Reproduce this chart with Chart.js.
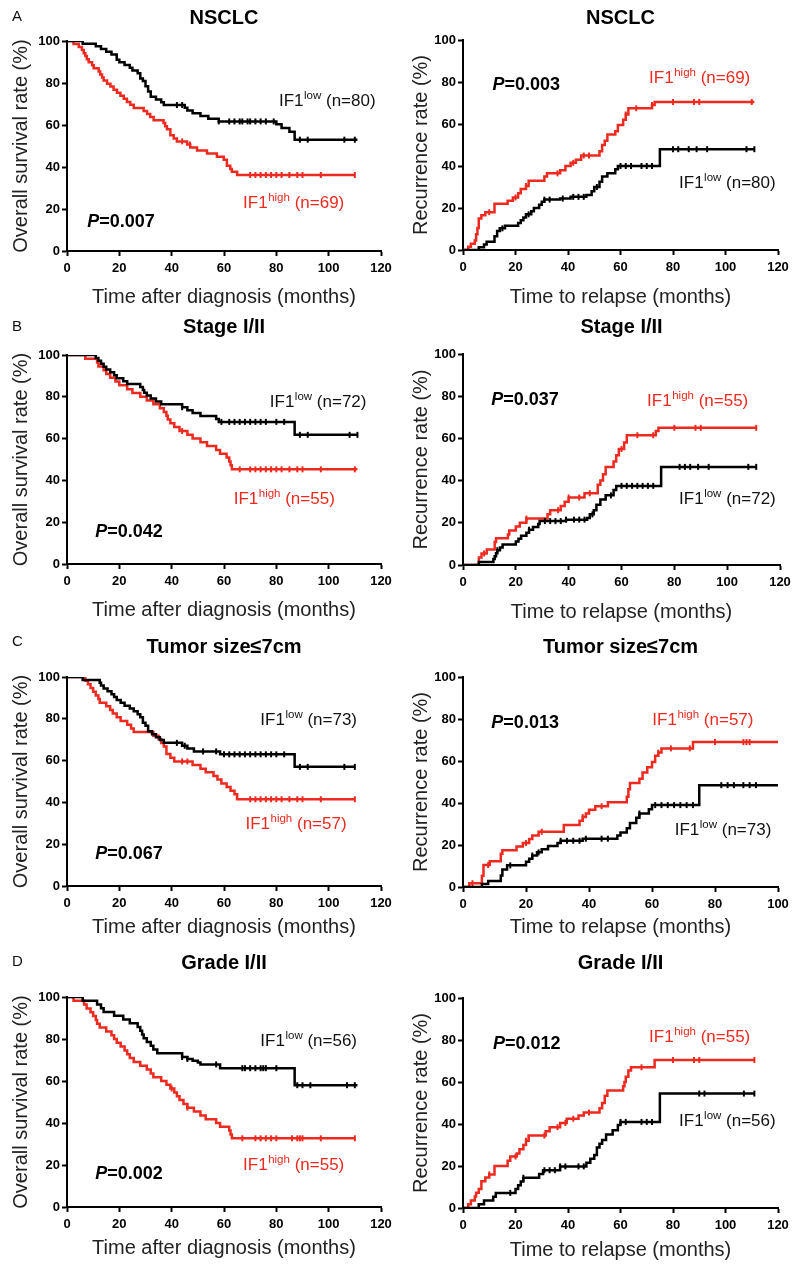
<!DOCTYPE html>
<html>
<head>
<meta charset="utf-8">
<script src="https://cdn.jsdelivr.net/npm/chart.js@4"></script>
<style>
  body { margin: 0; background: #fff; }
  #wrap { position: relative; width: 800px; height: 1273px; overflow: hidden; background: #fff; }
  canvas { position: absolute; }
</style>
</head>
<body>
<div id="wrap"></div>
<script>
// ---- data: [month, percent] at each step ----
const aOsLow = [[0,100],[6,98.7],[11,97.5],[13,96.2],[15,94.9],[17,93.6],[19,91.1],[20,89.9],[22,88.6],[24,87.3],[25,86],[27,84.7],[28,82.2],[29,80.9],[30,78.4],[31,75.9],[32,73.4],[34,72.1],[36,70.8],[37,69.5],[45,68.2],[46,66.9],[48,65.6],[51,64.3],[54,63],[58,61.7],[80,60.4],[82,58.6],[85,56.8],[87,53],[111,53]];
const aOsHigh = [[0,100],[2.5,98.6],[4.5,97.1],[5.7,95.7],[6.4,94.2],[7,92.8],[7.6,91.3],[8.3,89.9],[9.6,88.4],[10.2,87],[12.1,85.5],[12.7,84.1],[13.4,82.6],[14,81.2],[15.3,79.7],[16.6,78.3],[17.8,76.8],[19.1,75.4],[20.4,73.9],[21.7,72.5],[22.9,71],[24.2,69.6],[25.5,68.1],[29.3,66.7],[30.6,65.2],[31.8,63.8],[33.1,62.3],[36.9,60.9],[37.5,59.4],[38.2,58],[39.5,55.1],[40.8,53.6],[42,52.2],[45.9,50.7],[47.1,49.3],[49.7,47.8],[53.5,46.4],[57.3,44.9],[59.9,43.5],[61.1,40.6],[62.4,39.1],[63,37.7],[65,36.2],[110,36.2]];
const aRecLow = [[0,0],[6,1.3],[8,2.6],[9,3.9],[12,6.5],[13,9],[14,10.3],[16,11.6],[21,12.9],[22,14.2],[23,15.5],[24,17],[26,18.5],[27,20],[29,21.5],[30,23],[31,24],[37,24.5],[41,25.3],[47,26.2],[49,28],[50,30],[52,32.5],[53,35],[55,36.5],[58,38.5],[59,40],[75,48],[111,48]];
const aRecHigh = [[0,0],[2,1.5],[3,3],[4.5,4.5],[5,7.5],[5.5,10.5],[6,15],[7,16.5],[8.5,18],[12,22],[17,23.5],[19,25],[21,27],[22,29],[24,30.5],[25,33],[31,35],[32,36.5],[37,38],[39,40],[41,41.5],[43,43],[45,45],[52,47],[53,50],[54,52],[55,55],[58,56.5],[59,59.5],[61,62],[62,64.5],[63,67.5],[72,69],[73,70.5],[111,70.5]];

const bOsLow = [[0,100],[11,98.6],[12,97.2],[13,95.8],[14,94.4],[15,93.1],[16.5,91.7],[18,90.3],[19,88.9],[21.5,87.5],[23,86.1],[28,84.7],[29,83.3],[29.5,81.9],[30.5,80.6],[32,79.2],[34,77.8],[36,76.4],[44,75],[46,73.6],[48,72.2],[51,70.8],[57,69.4],[58,68],[87,61.8],[111,61.8]];
const bOsHigh = [[0,100],[7,98.2],[11.5,96.4],[12,94.5],[14,92.7],[15,90.9],[16.5,89.1],[18.5,87.3],[20,85.5],[23,83.6],[25,81.8],[28,80],[30.5,78.2],[33,76.4],[35.5,74.5],[37,72.7],[38,70.9],[38.5,69.1],[39.5,67.3],[41,65.5],[43,63.6],[46,61.8],[48,60],[51,58.2],[53.5,56.4],[57,54.5],[58.5,52.7],[61,50.9],[62,49.1],[62.5,47.3],[63,45.3],[111,45.3]];
const bRecLow = [[0,0],[6,1.4],[11.5,2.8],[12,4.2],[12.5,5.6],[13,7],[14,8.3],[15,9.7],[20,11.1],[21,12.5],[22,13.9],[24,15.3],[25,16.7],[26.5,18],[28.5,19.4],[29,20.8],[39,21.5],[47,22.3],[48,24],[49.5,26],[50.5,28.5],[52,31],[54,33],[57,35.5],[58,37.5],[75,46.5],[111,46.5]];
const bRecHigh = [[0,0],[6,3.6],[7,5.5],[9,7.3],[12,10.9],[12.5,12.7],[17,14.5],[17.5,16.4],[20,18.2],[21.5,20],[24,22],[32,24],[33,26],[37,28],[38.5,30],[40,32],[46,34],[51,38],[52,40],[53,43],[54,46.5],[57,49],[58,52],[59,55],[61,58],[62,61.5],[73,63.5],[74,65],[111,65]];

const cOsLow = [[0,100],[6,98.6],[12.5,97.3],[13,95.9],[14,94.5],[15.5,93.2],[17,91.8],[18,90.4],[19,89],[20.5,87.7],[22,86.3],[24,84.9],[25.5,83.6],[27,82.2],[28,80.8],[29,78.1],[30,76.7],[31,74],[32.5,72.6],[34,71.2],[35.5,69.9],[37,68.5],[44,67.1],[46,65.8],[48.5,64.4],[58.5,63],[87,57],[110,57]];
const cOsHigh = [[0,100],[7,98.2],[8,96.5],[9,94.7],[10,93],[11,91.2],[12,89.5],[12.5,87.7],[15,86],[16.5,84.2],[17.5,82.5],[19,80.7],[20.5,78.9],[23,77.2],[24.5,75.4],[25.5,73.7],[33,71.9],[35,70.2],[36,68.4],[37,66.7],[38,63.2],[39.5,61.4],[41,59.6],[48,57.9],[51,56.1],[53,54.4],[56,52.6],[57.5,50.9],[59,49.1],[61,47.4],[62.5,45.6],[64,43.9],[65,41.5],[110,41.5]];
const cRecLow = [[0,0],[6,1.4],[8,2.8],[12,5.5],[12.5,8.3],[14,10.3],[20,12],[21,13.5],[22,15],[23.5,16.5],[25,18],[27,19.5],[30,21],[31,22],[38,23],[49,24.5],[50,26],[52,28],[53,30.5],[55,33],[56,35],[59,37],[60,39],[75,48.5],[100,48.5]];
const cRecHigh = [[0,0],[2,1.8],[6,5.3],[6.5,10.5],[8.5,12.3],[12,15.8],[12.5,17.5],[17,19.3],[19,21],[21,22.8],[22,24.5],[24,26.3],[32,29.5],[37,31.5],[38,33.3],[39,35],[40,36.8],[42,38.5],[46,40.3],[52,43],[52.5,46.5],[53,49.5],[56,51.5],[57,54.5],[58.5,57],[60,59.5],[61,62.5],[62,64],[63,66],[73,69],[100,69]];

const dOsLow = [[0,100],[6,98.2],[11.5,96.4],[13,94.6],[14,92.9],[18,91.1],[21.5,89.3],[24,87.5],[27,85.7],[28,83.9],[28.7,82.1],[29.3,80.4],[30.5,78.6],[32,76.8],[33,75],[34.5,73.2],[44,71.4],[46,70.5],[48,69.6],[50,68.8],[51,67.9],[58.5,66.1],[87,58],[111,58]];
const dOsHigh = [[0,100],[2.5,98.2],[6.5,96.4],[7.5,94.5],[9,92.7],[10,90.9],[11,89.1],[11.5,87.3],[12.5,85.5],[15,83.6],[17,81.8],[18,80],[19,78.2],[20.5,76.4],[22,74.5],[23,72.7],[24,70.9],[25.5,69.1],[28,67.3],[30.5,65.5],[32,63.6],[33,61.8],[36,60],[38,58.2],[39.5,56.4],[41,54.5],[42,52.7],[43,50.9],[44.5,49.1],[46,47.3],[48.5,45.5],[51,43.6],[53,41.8],[57,40],[58.5,38.2],[62,36.4],[62.5,34.5],[63,32.7],[110,32.7]];
const dRecLow = [[0,0],[6,1.8],[8,3.6],[11.5,5.4],[12.5,7.2],[20,9],[21,10.8],[22,12.6],[23,14.4],[29,16.2],[30.5,18],[37,19.8],[47,21.6],[48.5,23.4],[50,25.2],[51,28.8],[52,30.6],[53,32.4],[54.5,35],[57,37],[59,39.5],[60,41],[75,54.5],[111,54.5]];
const dRecHigh = [[0,0],[2,1.8],[3,3.6],[4.5,5.5],[5,7.3],[6,9.1],[7,12.7],[8.5,14.5],[10,16],[12,20],[17,22.5],[18,24.5],[20.5,26],[21.5,28],[23,30],[24,32],[25,34.5],[31.5,36.5],[33,38.5],[37,40.5],[39.5,42.5],[44,44],[46,45.5],[52,47.5],[53,50],[54,53.5],[55,56],[61,58],[61.5,60],[62,62.5],[63,65.5],[64,67],[73,70.5],[111,70.5]];

// censor tick times (months)
const aOsLowCens = [42,44,58,62,64,66,67,69,70,72,74,76,79,89,92,106,110];
const aOsHighCens = [44,47,70,72,74,76,78,80,82,85,88,90,97,110];
const aRecLowCens = [15,25,31,33,38,42,44,46,51,60,62,64,68,70,72,80,82,86,89,93,108,111];
const aRecHighCens = [10,20,24,36,42,46,48,62,66,72,80,88,90,110];
const bOsLowCens = [44,59,62,64,66,68,70,72,74,76,80,83,89,92,108,111];
const bOsHighCens = [44,66,70,72,74,76,78,80,82,85,88,90,97,110];
const bRecLowCens = [13,25,31,33,35,37,39,42,44,46,49,56,60,62,64,66,68,70,72,82,84,86,89,93,108,111];
const bRecHighCens = [8,24,36,40,44,48,60,66,72,80,88,90,111];
const cOsLowCens = [42,45,52,57,60,62,64,66,68,70,72,74,76,78,80,83,89,92,106,110];
const cOsHighCens = [44,46,70,72,74,76,78,80,82,85,88,90,97,110];
const cRecLowCens = [15,22,24,31,33,35,37,39,44,46,56,61,63,65,67,69,71,73,82,84,86,89,91,93];
const cRecHighCens = [3,8,20,25,38,44,62,66,72,80,89,90,91];
const dOsLowCens = [44,46,57,67,68,70,72,74,75,76,80,88,90,93,107,110];
const dOsHighCens = [40,46,67,72,74,76,78,80,86,88,89,90,97,110];
const dRecLowCens = [18,23,31,33,35,37,39,44,46,60,62,68,70,72,90,92,107,111];
const dRecHighCens = [10,20,24,31,36,39,42,48,68,80,88,90,111];

const xTicksStep = 20;
const yTicks = [0, 20, 40, 60, 80, 100];

const FONT = '"Liberation Sans", Arial, sans-serif';
const RED = '#ec2a1f';
const BLACK = '#000';

const panels = [
  { letter: 'A', title: 'NSCLC', titleY: 18, left: 0, top: 0, h: 310, L: 67, R: 381, T: 41, B: 251, xMax: 120, os: true,
    p: '0.007', pPos: [7.7, 14.7], low: [aOsLow, aOsLowCens, 80, [81, 72]], high: [aOsHigh, aOsHighCens, 69, [67.3, 23.4]] },
  { title: 'NSCLC', titleY: 18, left: 400, top: 0, h: 310, L: 63, R: 378, T: 40, B: 250, xMax: 120, os: false,
    p: '0.003', pPos: [11.2, 79.4], low: [aRecLow, aRecLowCens, 80, [82.3, 32.5]], high: [aRecHigh, aRecHighCens, 69, [70.9, 82.2]] },
  { letter: 'B', title: 'Stage I/II', titleY: 17, left: 0, top: 310, h: 313, L: 67, R: 381, T: 45, B: 254, xMax: 120, os: true,
    p: '0.042', pPos: [10.8, 15.9], low: [bOsLow, bOsLowCens, 72, [77.5, 78]], high: [bOsHigh, bOsHighCens, 55, [63.7, 31.4]] },
  { title: 'Stage I/II', titleY: 17, left: 400, top: 310, h: 315, L: 63, R: 380, T: 44, B: 255, xMax: 120, os: false,
    p: '0.037', pPos: [10.7, 79], low: [bRecLow, bRecLowCens, 72, [81.8, 31.6]], high: [bRecHigh, bRecHighCens, 55, [69.7, 78]] },
  { letter: 'C', title: 'Tumor size\u22647cm', titleY: 22, left: 0, top: 625, h: 315, L: 67, R: 381, T: 52, B: 261, xMax: 120, os: true,
    p: '0.067', pPos: [10.8, 15.9], low: [cOsLow, cOsLowCens, 73, [73.9, 79.7]], high: [cOsHigh, cOsHighCens, 57, [68.2, 30.3]] },
  { title: 'Tumor size\u22647cm', titleY: 22, left: 400, top: 625, h: 315, L: 63, R: 378, T: 52, B: 262, xMax: 100, os: false,
    p: '0.013', pPos: [9, 78.6], low: [cRecLow, cRecLowCens, 73, [67.2, 27.5]], high: [cRecHigh, cRecHighCens, 57, [60.1, 79.8]] },
  { letter: 'D', title: 'Grade I/II', titleY: 18, left: 0, top: 945, h: 316, L: 67, R: 381, T: 52, B: 262, xMax: 120, os: true,
    p: '0.002', pPos: [10.8, 16.3], low: [dOsLow, dOsLowCens, 56, [73.9, 79.4]], high: [dOsHigh, dOsHighCens, 55, [67.3, 20.6]] },
  { title: 'Grade I/II', titleY: 18, left: 400, top: 945, h: 318, L: 63, R: 378, T: 53, B: 263, xMax: 120, os: false,
    p: '0.012', pPos: [11.4, 79], low: [dRecLow, dRecLowCens, 56, [82.3, 41.7]], high: [dRecHigh, dRecHighCens, 55, [70.9, 81.9]] }
];

function valueAt(curve, t) {
  let v = curve[0][1];
  for (const pt of curve) {
    if (pt[0] <= t) v = pt[1];
    else break;
  }
  return v;
}

function curveDs(curve, color) {
  return {
    data: curve.map(p => ({ x: p[0], y: p[1] })),
    borderColor: color,
    borderWidth: 2.5,
    stepped: true,
    pointRadius: 0,
    fill: false
  };
}

function censDs(curve, times, color) {
  return {
    data: times.map(t => ({ x: t, y: valueAt(curve, t) })),
    showLine: false,
    pointStyle: 'line',
    pointRotation: 90,
    pointRadius: 3,
    pointBorderWidth: 2,
    pointBorderColor: color,
    pointBackgroundColor: color
  };
}

const annot = {
  id: 'annot',
  afterDraw(chart, args, o) {
    const ctx = chart.ctx, a = chart.chartArea;
    const xs = chart.scales.x, ys = chart.scales.y;
    ctx.save();
    ctx.textBaseline = 'middle';
    if (o.letter) {
      ctx.font = '15px ' + FONT;
      ctx.fillStyle = '#111';
      ctx.textAlign = 'left';
      ctx.fillText(o.letter, 12, 17);
    }
    ctx.font = 'bold 20px ' + FONT;
    ctx.fillStyle = '#000';
    ctx.textAlign = 'center';
    ctx.fillText(o.title, (a.left + a.right) / 2, o.titleY);

    // P value
    ctx.textAlign = 'left';
    ctx.textBaseline = 'alphabetic';
    let x = xs.getPixelForValue(o.pPos[0]);
    let y = ys.getPixelForValue(o.pPos[1]) + 6.5;
    ctx.font = 'italic bold 18px ' + FONT;
    ctx.fillText('P', x, y);
    x += ctx.measureText('P').width;
    ctx.font = 'bold 18px ' + FONT;
    ctx.fillText('=' + o.p, x, y);

    // group labels
    const labels = [['low', o.low, '#111'], ['high', o.high, RED]];
    for (const [sup, g, color] of labels) {
      let lx = xs.getPixelForValue(g[3][0]);
      const ly = ys.getPixelForValue(g[3][1]) + 6;
      ctx.fillStyle = color;
      ctx.font = '17px ' + FONT;
      ctx.fillText('IF1', lx, ly);
      lx += ctx.measureText('IF1').width + 0.5;
      ctx.font = '11.5px ' + FONT;
      ctx.fillText(sup, lx, ly - 7);
      lx += ctx.measureText(sup).width;
      ctx.font = '17px ' + FONT;
      ctx.fillText(' (n=' + g[2] + ')', lx, ly);
    }
    ctx.restore();
  }
};

const wrap = document.getElementById('wrap');

panels.forEach(pn => {
  const cv = document.createElement('canvas');
  cv.width = 400;
  cv.height = pn.h;
  cv.style.left = pn.left + 'px';
  cv.style.top = pn.top + 'px';
  wrap.appendChild(cv);

  const xH = pn.h - pn.B;
  const yW = pn.L;

  new Chart(cv.getContext('2d'), {
    type: 'line',
    data: {
      datasets: [
        curveDs(pn.low[0], BLACK),
        censDs(pn.low[0], pn.low[1], BLACK),
        curveDs(pn.high[0], RED),
        censDs(pn.high[0], pn.high[1], RED)
      ]
    },
    options: {
      responsive: false,
      animation: false,
      devicePixelRatio: 1,
      layout: { padding: { top: pn.T, right: 400 - pn.R, left: 0, bottom: 0 } },
      plugins: {
        legend: { display: false },
        tooltip: { enabled: false },
        annot: { letter: pn.letter, title: pn.title, titleY: pn.titleY, p: pn.p, pPos: pn.pPos, low: pn.low, high: pn.high }
      },
      scales: {
        x: {
          type: 'linear',
          min: 0,
          max: pn.xMax,
          afterFit: s => { s.height = xH; },
          border: { display: true, color: '#000', width: 2 },
          grid: { drawOnChartArea: false, drawTicks: true, tickLength: 5, tickWidth: 2, color: '#000' },
          ticks: { stepSize: xTicksStep, autoSkip: false, maxRotation: 0, padding: 5, color: '#000',
                   font: { family: FONT, size: 13, weight: 'bold' } },
          title: { display: true, text: pn.os ? 'Time after diagnosis (months)' : 'Time to relapse (months)',
                   color: '#222', font: { family: FONT, size: 20 }, padding: { top: 0, bottom: 1 } }
        },
        y: {
          min: 0,
          max: 100,
          afterFit: s => { s.width = yW; },
          afterBuildTicks: s => { s.ticks = yTicks.map(v => ({ value: v })); },
          border: { display: true, color: '#000', width: 2 },
          grid: { drawOnChartArea: false, drawTicks: true, tickLength: 5, tickWidth: 2, color: '#000' },
          ticks: { padding: 2, color: '#000', font: { family: FONT, size: 13, weight: 'bold' } },
          title: { display: true, text: pn.os ? 'Overall survival rate (%)' : 'Recurrence rate (%)',
                   color: '#222', font: { family: FONT, size: 20 }, padding: { top: 9, bottom: 0 } }
        }
      }
    },
    plugins: [annot]
  });
});
</script>
</body>
</html>
